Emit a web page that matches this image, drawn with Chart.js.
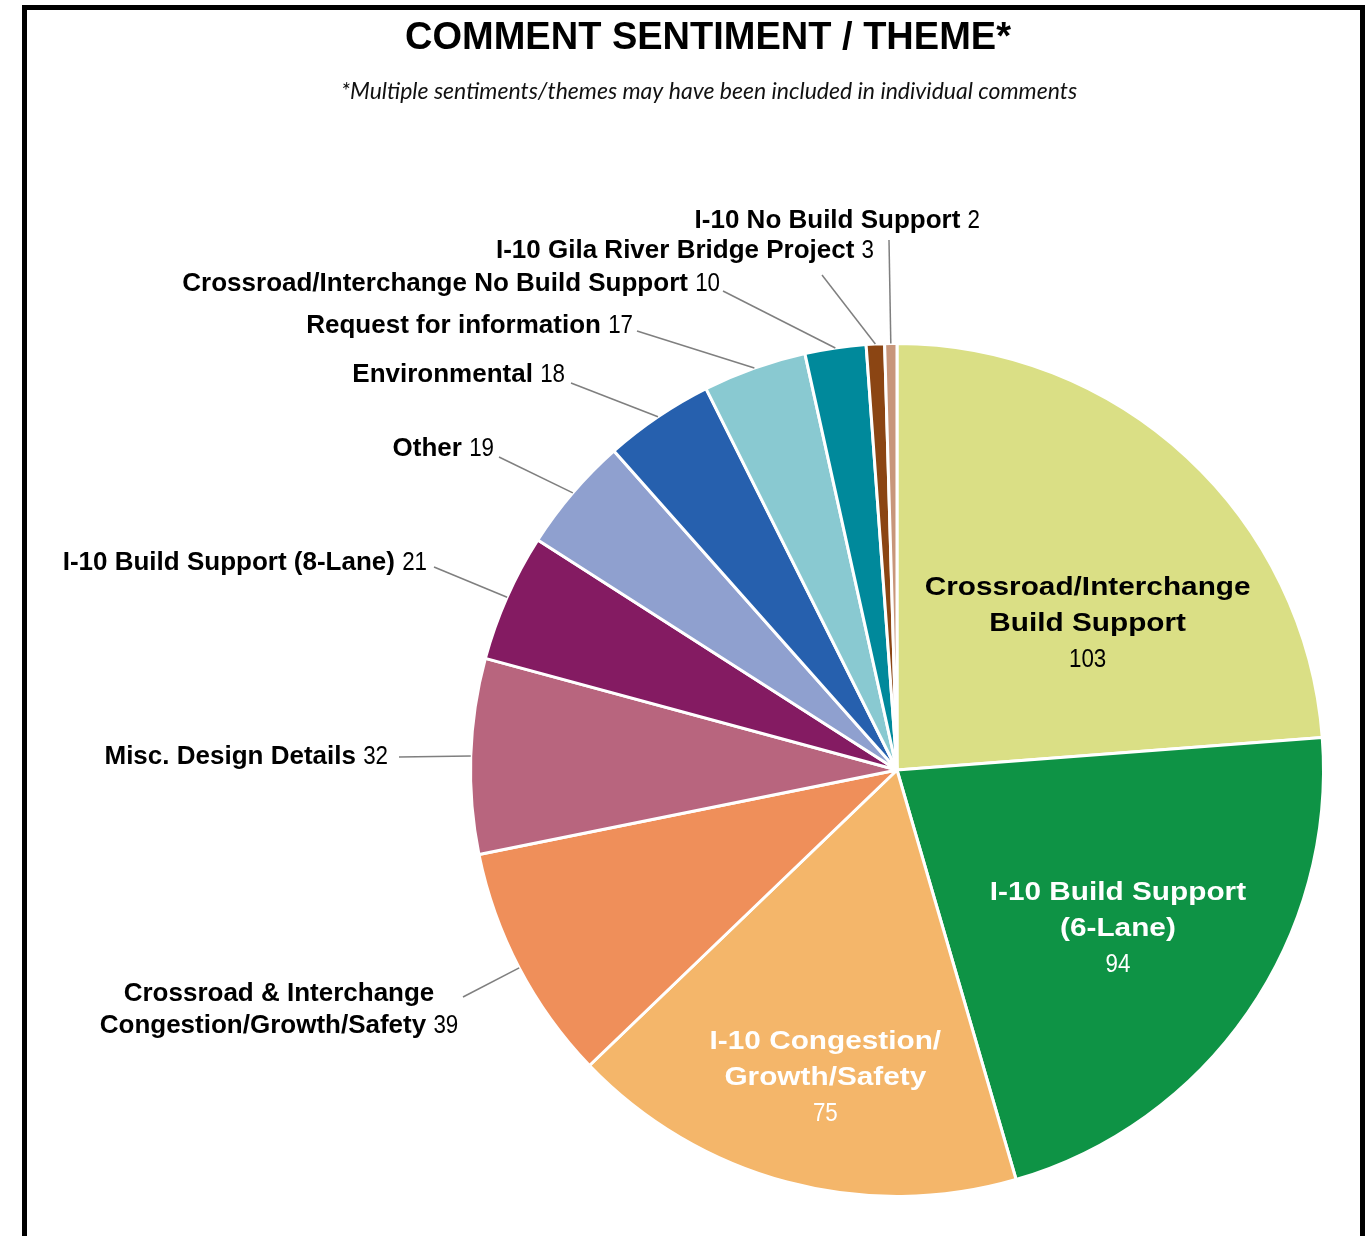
<!DOCTYPE html>
<html><head><meta charset="utf-8">
<script src="https://cdn.jsdelivr.net/npm/chart.js@4/dist/chart.umd.min.js"></script>
<style>
html,body{margin:0;padding:0;background:#fff;}
#wrap{position:relative;width:1372px;height:1236px;overflow:hidden;background:#fff;}
#frame{position:absolute;left:22px;top:5px;width:1343px;height:1300px;border:5px solid #000;box-sizing:border-box;}
canvas{position:absolute;left:0;top:0;}
</style></head><body>
<div id="wrap"><div id="frame"></div><canvas id="c" width="1372" height="1236"></canvas></div>
<script>
// ---- data ----
const categories = [
  "Crossroad/Interchange Build Support",
  "I-10 Build Support (6-Lane)",
  "I-10 Congestion/Growth/Safety",
  "Crossroad & Interchange Congestion/Growth/Safety",
  "Misc. Design Details",
  "I-10 Build Support (8-Lane)",
  "Other",
  "Environmental",
  "Request for information",
  "Crossroad/Interchange No Build Support",
  "I-10 Gila River Bridge Project",
  "I-10 No Build Support"
];
const counts = [103, 94, 75, 39, 32, 21, 19, 18, 17, 10, 3, 2];
const labelLines = [
  ["Crossroad/Interchange", "Build Support"],
  ["I-10 Build Support", "(6-Lane)"],
  ["I-10 Congestion/", "Growth/Safety"],
  ["Crossroad & Interchange", "Congestion/Growth/Safety"],
  ["Misc. Design Details"],
  ["I-10 Build Support (8-Lane)"],
  ["Other"],
  ["Environmental"],
  ["Request for information"],
  ["Crossroad/Interchange No Build Support"],
  ["I-10 Gila River Bridge Project"],
  ["I-10 No Build Support"]
];
const titleText = "COMMENT SENTIMENT / THEME*";
const subtitleText = "*Multiple sentiments/themes may have been included in individual comments";

// ---- styles / layout ----
const sliceColors = ["#DADF85","#0E9345","#F4B66A","#EF8F5A","#B8657E","#841B62",
                     "#8FA0CF","#2660AE","#89C9D1","#00899B","#8B4513","#C8967A"];
const OUT_FONT = {font:"bold 25px 'Liberation Sans', Arial, sans-serif", sx:1.04};
const IN_FONT  = {font:"bold 26px 'Liberation Sans', Arial, sans-serif", sx:1.145};
const NUM_FONT = {font:"26px 'Liberation Sans', Arial, sans-serif", sx:0.86};
const LH = 36;
// inside labels: offsets of first line in radius units; outside: text anchor & leader start (px from pie centre)
const labelLayout = [
  {inside:true, dx:0.447, dy:-0.428, color:"#000"},
  {inside:true, dx:0.518, dy:0.289, color:"#fff"},
  {inside:true, dx:-0.168, dy:0.638, color:"#fff"},
  {align:"center", x:-618, y:224, lx:-434, ly:227},
  {align:"right", x:-509, y:-13, lx:-498, ly:-13},
  {align:"right", x:-470, y:-207, lx:-463, ly:-203},
  {align:"right", x:-403, y:-321, lx:-398, ly:-313},
  {align:"right", x:-332, y:-395, lx:-326, ly:-387},
  {align:"right", x:-264, y:-444, lx:-260, ly:-439},
  {align:"right", x:-177, y:-486, lx:-174, ly:-479},
  {align:"right", x:-23, y:-519, lx:-75, ly:-495},
  {align:"right", x:83, y:-549, lx:-8, ly:-530}
];

function textW(ctx, t, f){ ctx.font = f.font; return ctx.measureText(t).width * f.sx; }
function putText(ctx, t, x, y, f){
  ctx.save();
  ctx.font = f.font;
  ctx.textAlign = "left";
  ctx.translate(x, y);
  ctx.scale(f.sx, 1);
  ctx.fillText(t, 0, 0);
  ctx.restore();
}
function drawLine(ctx, x, y, name, val, align, f){
  const wn = textW(ctx, name, f);
  const sp = val ? textW(ctx, " ", f) : 0;
  const wv = val ? textW(ctx, val, NUM_FONT) : 0;
  const total = wn + sp + wv;
  const sx = align === "right" ? x - total : x - total/2;
  putText(ctx, name, sx, y, f);
  if (val) putText(ctx, val, sx + wn + sp, y, NUM_FONT);
}

const labelPlugin = {
  id: "sliceLabels",
  afterDatasetsDraw(chart){
    const ctx = chart.ctx;
    const meta = chart.getDatasetMeta(0);
    const a0 = meta.data[0];
    const cx = a0.x, cy = a0.y, R = a0.outerRadius;
    ctx.save();
    ctx.textBaseline = "middle";
    // title
    ctx.fillStyle = "#000";
    ctx.textAlign = "center";
    ctx.font = "bold 38px 'Liberation Sans', Arial, sans-serif";
    ctx.fillText(titleText, 708, 39);
    ctx.fillStyle = "#111";
    ctx.font = "italic 23px Lato, 'Open Sans', sans-serif";
    ctx.fillText(subtitleText, 709, 92);

    meta.data.forEach((arc, i) => {
      const L = labelLayout[i];
      const lines = labelLines[i];
      const val = String(counts[i]);
      if (L.inside){
        const x = cx + L.dx*R, y0 = cy + L.dy*R;
        ctx.fillStyle = L.color;
        lines.forEach((t,k) => drawLine(ctx, x, y0 + k*LH, t, "", "center", IN_FONT));
        putText(ctx, val, x - textW(ctx, val, NUM_FONT)/2, y0 + lines.length*LH, NUM_FONT);
      } else {
        const mid = (arc.startAngle + arc.endAngle)/2;
        const ex = cx + Math.cos(mid)*R, ey = cy + Math.sin(mid)*R;
        ctx.strokeStyle = "#7f7f7f";
        ctx.lineWidth = 1.5;
        ctx.beginPath();
        ctx.moveTo(cx + L.lx, cy + L.ly);
        ctx.lineTo(ex, ey);
        ctx.stroke();
        ctx.fillStyle = "#000";
        lines.forEach((t,k) => {
          const last = k === lines.length - 1;
          drawLine(ctx, cx + L.x, cy + L.y + k*32, t, last ? val : "", L.align, OUT_FONT);
        });
      }
    });
    ctx.restore();
  }
};

new Chart(document.getElementById("c"), {
  type: "pie",
  data: {
    labels: categories,
    datasets: [{
      data: counts,
      backgroundColor: sliceColors,
      borderColor: "#ffffff",
      borderWidth: 3
    }]
  },
  options: {
    responsive: false,
    animation: false,
    layout: { padding: { left: 469, right: 47, top: 342, bottom: 38 } },
    plugins: { legend: { display: false }, tooltip: { enabled: false }, title: { display: false } }
  },
  plugins: [labelPlugin]
});
</script>
</body></html>
